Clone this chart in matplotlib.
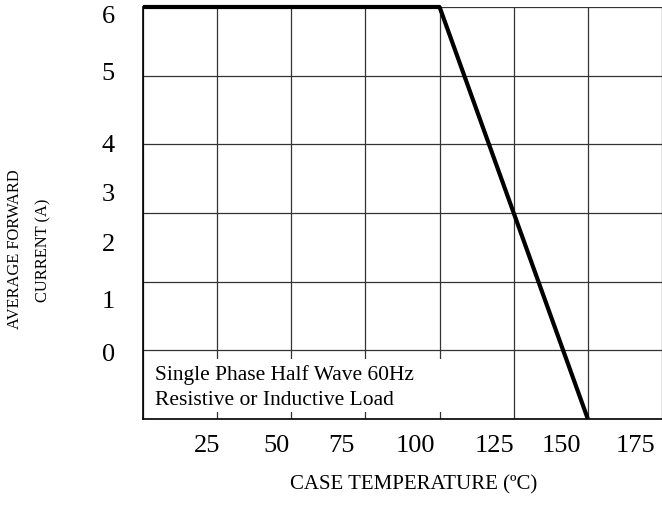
import numpy as np
import matplotlib
matplotlib.use("Agg")
import matplotlib.pyplot as plt
from matplotlib.patches import Rectangle

# derating curve: case temperature (C) vs average forward current (A)
temp = [0, 100, 150]
current = [6, 6, 0]

# grid steps
x_grid = [0, 25, 50, 75, 100, 125, 150, 175]
y_grid = [0, 1, 2, 3, 4, 5, 6]

# tick labels as printed on the sheet (they sit a bit off the grid)
x_labels = ["25", "50", "75", "100", "125", "150", "175"]
x_label_at = [21.5, 45, 67, 92, 118.5, 141, 166]
y_labels = ["6", "5", "4", "3", "2", "1", "0"]
y_label_at = [5.9, 5.07, 4.03, 3.31, 2.58, 1.75, 0.99]

plt.rcParams['font.family'] = ['Liberation Serif', 'DejaVu Serif']

fig = plt.figure(figsize=(6.62, 5.10), dpi=100)
ax = fig.add_axes([143 / 662, 1 - 420 / 510, 1 - 143 / 662, 412 / 510])

ax.set_xlim(0, 174.2)
ax.set_ylim(0, 6)

# grid from minor ticks, labels on major ticks
ax.set_xticks(x_grid, minor=True)
ax.set_yticks(y_grid, minor=True)
ax.grid(True, which='minor', color='#333333', linewidth=0.9)
ax.set_xticks(x_label_at, x_labels)
ax.set_yticks(y_label_at, y_labels)
ax.tick_params(which='both', length=0)
ax.tick_params(axis='x', labelsize=19, pad=11)
ax.tick_params(axis='y', labelsize=19, pad=25)
for lab in ax.get_yticklabels():
    lab.set_horizontalalignment('center')

for s in ['top', 'right']:
    ax.spines[s].set_visible(False)
for s in ['left', 'bottom']:
    ax.spines[s].set_linewidth(1.2)
    ax.spines[s].set_color('black')

ax.plot(temp, current, color='black', linewidth=3, solid_capstyle='butt',
        clip_on=False, zorder=5)

# white note box over the bottom row of the grid
ax.add_patch(Rectangle((0.003, 0.017), 0.58, 0.129, transform=ax.transAxes,
                       facecolor='white', edgecolor='none', zorder=3))
ax.text(0.023, 0.079, "Single Phase Half Wave 60Hz\nResistive or Inductive Load",
        transform=ax.transAxes, fontsize=15.5, va='center', ha='left',
        linespacing=1.4, zorder=4)

fig.text(414 / 662, 1 - 485 / 510, "CASE TEMPERATURE (ºC)", fontsize=15,
         ha='center', va='center')
fig.text(15 / 662, 1 - 249 / 510, "AVERAGE FORWARD", fontsize=11.8,
         rotation=90, ha='center', va='center')
fig.text(43 / 662, 1 - 250 / 510, "CURRENT (A)", fontsize=11.8,
         rotation=90, ha='center', va='center')

fig.savefig("out.png", dpi=100)
